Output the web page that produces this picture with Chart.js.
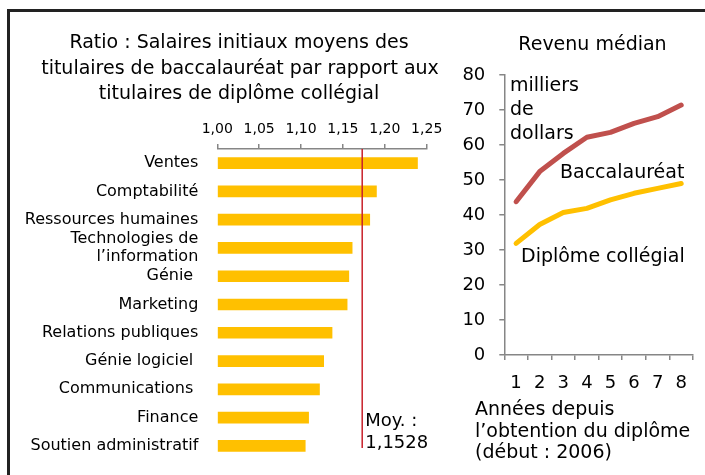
<!DOCTYPE html>
<html>
<head>
<meta charset="utf-8">
<script src="https://cdn.jsdelivr.net/npm/chart.js@4"></script>
<style>
  body { margin: 0; background: #fff; }
  #wrap { position: relative; width: 705px; height: 475px; overflow: hidden; }
  #frame { position: absolute; left: 7px; top: 9px; width: 720px; height: 500px;
           border: 3px solid #222; box-sizing: border-box; }
  #ratioChart { position: absolute; left: 0; top: 0; }
  #incomeChart { position: absolute; left: 455px; top: 0; }
</style>
</head>
<body>
<div id="wrap">
  <div id="frame"></div>
  <canvas id="ratioChart" width="470" height="475"></canvas>
  <canvas id="incomeChart" width="250" height="475"></canvas>
</div>
<script>
// Left panel: ratio bac / collégial by field
const fields = ['Ventes', 'Comptabilité', 'Ressources humaines', ['Technologies de', 'l’information'],
    'Génie ', 'Marketing', 'Relations publiques', 'Génie logiciel ', 'Communications ',
    'Finance', 'Soutien administratif'];
const ratios = [1.239, 1.190, 1.182, 1.161, 1.157, 1.155, 1.137, 1.127, 1.122, 1.109, 1.105];
const ratioTicks = [1.00, 1.05, 1.10, 1.15, 1.20, 1.25];
const averageMarker = 1.173;   // where the red line sits in the picture
const averageText = ['Moy. :', '1,1528'];

// Right panel: median income (thousands of dollars)
const years = ['1', '2', '3', '4', '5', '6', '7', '8'];
const bacIncome = [43.8, 52.4, 57.6, 62.2, 63.6, 66.2, 68.1, 71.4];
const collegeIncome = [31.9, 37.3, 40.7, 41.9, 44.3, 46.2, 47.6, 49.0];
const incomeTicks = [0, 10, 20, 30, 40, 50, 60, 70, 80];

const colors = {
    gold: '#FFC000',
    red: '#C0504D',
    avg: '#C8202A',
    axis: '#868686',
    text: '#000'
};
const FONT = "'DejaVu Sans', sans-serif";

Chart.defaults.font.family = FONT;
Chart.defaults.color = colors.text;
Chart.defaults.animation = false;

// free text drawn at fixed spots
const notes = {
    id: 'notes',
    afterDraw(chart, args, opts) {
        const ctx = chart.ctx;
        ctx.save();
        (opts.items || []).forEach(n => {
            ctx.font = n.size + 'px ' + FONT;
            ctx.fillStyle = colors.text;
            ctx.textAlign = n.align || 'left';
            ctx.textBaseline = 'middle';
            ctx.fillText(n.text, n.x, n.y);
        });
        ctx.restore();
    }
};

const avgLine = {
    id: 'avgLine',
    afterDatasetsDraw(chart) {
        const ctx = chart.ctx;
        const x = chart.scales.x.getPixelForValue(averageMarker);
        const area = chart.chartArea;
        ctx.save();
        ctx.strokeStyle = colors.avg;
        ctx.lineWidth = 1.5;
        ctx.beginPath();
        ctx.moveTo(x, area.top);
        ctx.lineTo(x, area.bottom - 12);
        ctx.stroke();
        ctx.font = '18px ' + FONT;
        ctx.fillStyle = colors.text;
        ctx.textBaseline = 'middle';
        ctx.fillText(averageText[0], x + 3, 421);
        ctx.fillText(averageText[1], x + 3, 443);
        ctx.restore();
    }
};

// 1. Ratio bars
new Chart(document.getElementById('ratioChart'), {
    type: 'bar',
    data: {
        labels: fields,
        datasets: [{
            data: ratios,
            base: 1,
            backgroundColor: colors.gold,
            barThickness: 11
        }]
    },
    options: {
        indexAxis: 'y',
        responsive: false,
        layout: { padding: { top: 109, left: 0, right: 43.3, bottom: 15 } },
        plugins: {
            legend: { display: false },
            tooltip: { enabled: false },
            notes: {
                items: [
                    { text: 'Ratio : Salaires initiaux moyens des', x: 239, y: 43, size: 19, align: 'center' },
                    { text: 'titulaires de baccalauréat par rapport aux', x: 240, y: 69, size: 19, align: 'center' },
                    { text: 'titulaires de diplôme collégial', x: 239, y: 94, size: 19, align: 'center' }
                ]
            }
        },
        scales: {
            x: {
                position: 'top',
                min: ratioTicks[0],
                max: ratioTicks[ratioTicks.length - 1],
                afterBuildTicks: s => { s.ticks = ratioTicks.map(v => ({ value: v })); },
                afterFit: s => { s.height = 40; },
                ticks: {
                    padding: 6.5,
                    font: { size: 14 },
                    callback: v => v.toFixed(2).replace('.', ',')
                },
                grid: { drawOnChartArea: false, tickLength: 5, color: colors.axis, lineWidth: 1.5 },
                border: { color: colors.axis, width: 1.5 }
            },
            y: {
                afterFit: s => { s.width = 217.3; },
                ticks: { autoSkip: false, padding: 0, font: { size: 16, lineHeight: 1.15 } },
                grid: { display: false, drawTicks: true, tickLength: 19 },
                border: { display: false }
            }
        }
    },
    plugins: [notes, avgLine]
});

// 2. Median income lines
new Chart(document.getElementById('incomeChart'), {
    type: 'line',
    data: {
        labels: years,
        datasets: [
            {
                label: 'Baccalauréat',
                data: bacIncome,
                borderColor: colors.red,
                borderWidth: 5,
                pointRadius: 0,
                borderCapStyle: 'round',
                borderJoinStyle: 'round'
            },
            {
                label: 'Diplôme collégial',
                data: collegeIncome,
                borderColor: colors.gold,
                borderWidth: 5,
                pointRadius: 0,
                borderCapStyle: 'round',
                borderJoinStyle: 'round'
            }
        ]
    },
    options: {
        responsive: false,
        layout: { padding: { top: 75, left: 0, right: 12, bottom: 80 } },
        plugins: {
            legend: { display: false },
            tooltip: { enabled: false },
            notes: {
                items: [
                    { text: 'Revenu médian', x: 137.5, y: 45, size: 19, align: 'center' },
                    { text: 'milliers', x: 55, y: 86, size: 19 },
                    { text: 'de', x: 55, y: 110, size: 19 },
                    { text: 'dollars', x: 55, y: 134, size: 19 },
                    { text: 'Baccalauréat', x: 105, y: 173, size: 19 },
                    { text: 'Diplôme collégial', x: 66, y: 257, size: 19 },
                    { text: 'Années depuis', x: 20, y: 410, size: 19 },
                    { text: 'l’obtention du diplôme', x: 20, y: 432, size: 19 },
                    { text: '(début : 2006)', x: 20, y: 453, size: 19 }
                ]
            }
        },
        scales: {
            x: {
                offset: true,
                afterFit: s => { s.height = 40; },
                ticks: { padding: 13, font: { size: 18 } },
                grid: { offset: true, drawOnChartArea: false, tickLength: 5, color: colors.axis, lineWidth: 1.5 },
                border: { color: colors.axis, width: 1.5 }
            },
            y: {
                min: incomeTicks[0],
                max: incomeTicks[incomeTicks.length - 1],
                afterBuildTicks: s => { s.ticks = incomeTicks.map(v => ({ value: v })); },
                afterFit: s => { s.width = 49.3; },
                ticks: { padding: 14, font: { size: 18 } },
                grid: { drawOnChartArea: false, tickLength: 5, color: colors.axis, lineWidth: 1.5 },
                border: { color: colors.axis, width: 1.5 }
            }
        }
    },
    plugins: [notes]
});
</script>
</body>
</html>
